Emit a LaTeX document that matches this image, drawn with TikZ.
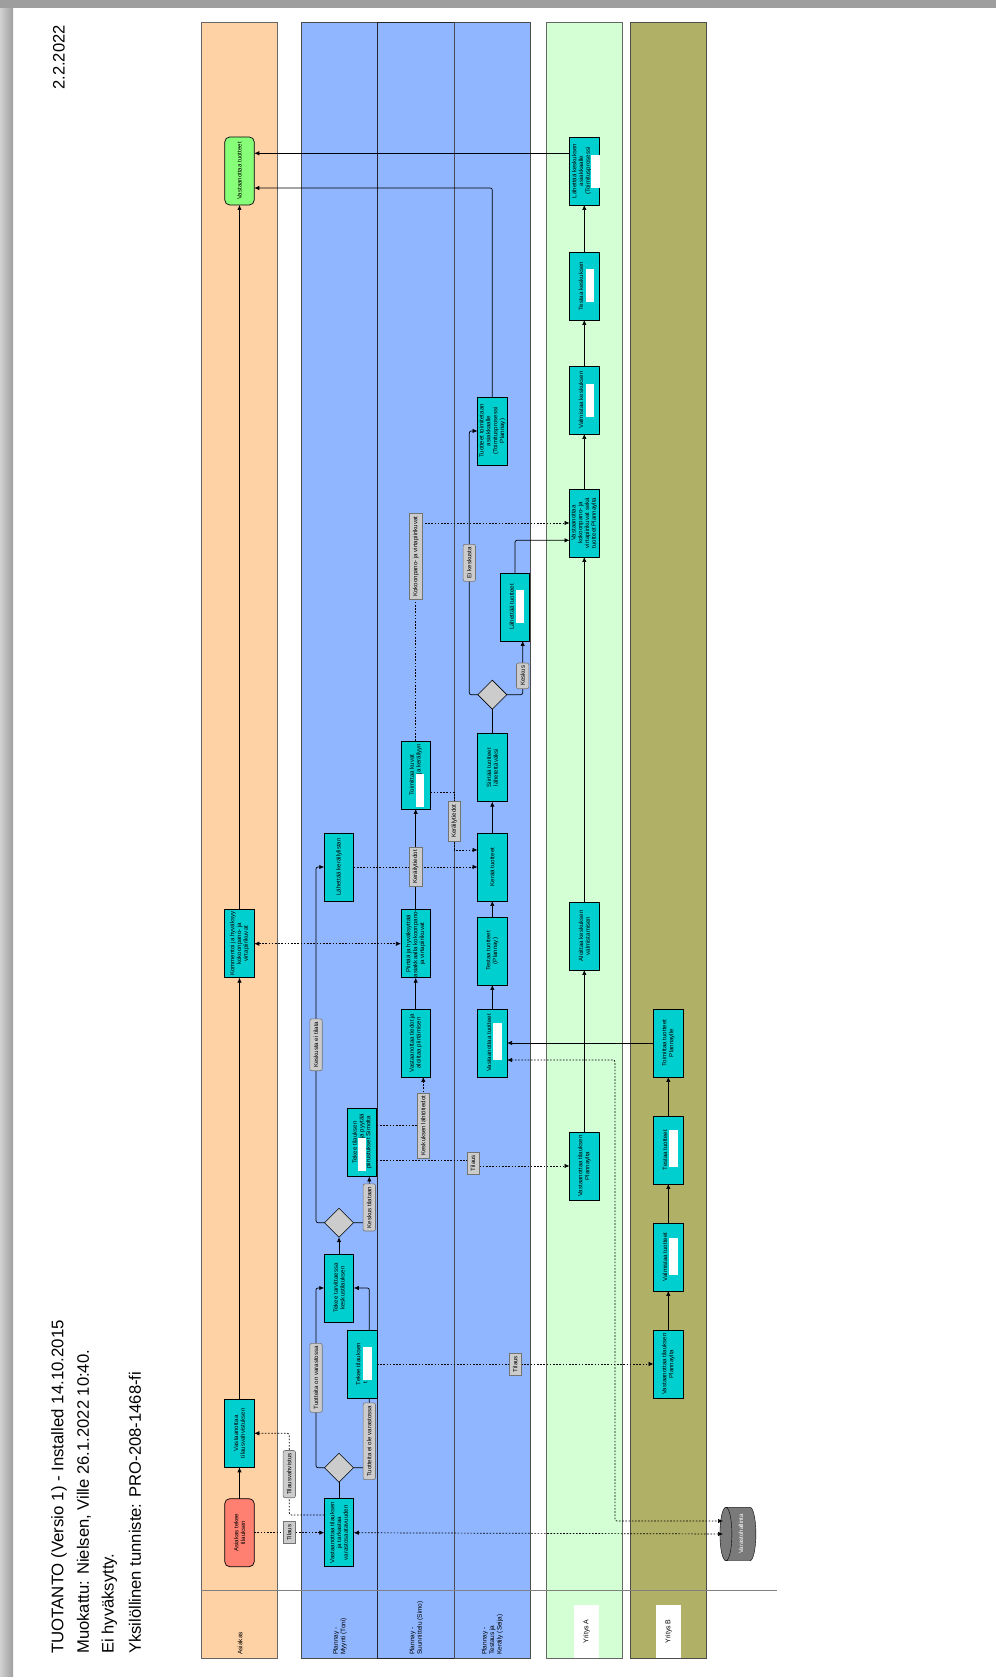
\documentclass[tikz,border=0pt]{standalone}
\usepackage{fontspec}
\setmainfont{Liberation Sans}
\usetikzlibrary{arrows.meta, positioning, shapes.geometric}
\definecolor{custfill}{RGB}{255,210,166}
\definecolor{planfill}{RGB}{143,182,255}
\definecolor{yafill}{RGB}{212,255,212}
\definecolor{ybfill}{RGB}{176,176,102}
\definecolor{taskfill}{RGB}{0,207,207}
\definecolor{startfill}{RGB}{255,128,112}
\definecolor{endfill}{RGB}{136,255,120}
\definecolor{tagfill}{RGB}{204,204,204}
\definecolor{framegray}{RGB}{158,158,158}
\tikzset{
  task/.style={rectangle, draw=black, fill=taskfill, line width=0.7pt, outer sep=0pt,
               minimum width=68pt, minimum height=29.5pt, inner sep=0pt,
               align=center, font=\fontsize{6.1}{6.8}\selectfont},
  startbox/.style={task, rounded corners=5pt, fill=startfill},
  endbox/.style={task, rounded corners=5pt, fill=endfill},
  gate/.style={diamond, draw=black, fill=tagfill, line width=0.6pt, outer sep=0pt,
               minimum width=29pt, minimum height=29pt, inner sep=0pt},
  tag/.style={rectangle, solid, draw=black!55, fill=tagfill, line width=0.6pt,
              minimum height=12.4pt, inner xsep=2.9pt, inner ysep=0pt,
              font=\fontsize{6.1}{6.8}\selectfont},
  lane/.style={rectangle, anchor=west, line width=0.6pt, outer sep=0pt,
               minimum width=1636pt, minimum height=76.4pt},
  lanetext/.style={anchor=west, align=left, inner sep=0pt,
                   font=\fontsize{6.5}{7.5}\selectfont},
  blank/.style={rectangle, fill=white, inner sep=0pt,
                minimum width=33pt, minimum height=8.4pt},
  firm/.style={rectangle, fill=white, minimum width=53pt, minimum height=25pt,
               inner sep=0pt, font=\fontsize{7}{8}\selectfont},
  headline/.style={anchor=west, inner sep=0pt, font=\fontsize{16.6}{18}\selectfont},
  arr/.style={-{Latex[length=5pt, width=4.4pt]}, line width=0.7pt, color=black},
  plainline/.style={line width=0.7pt, color=black},
  dots/.style={arr, dash pattern=on 1.6pt off 1.6pt},
  twoway/.style={dots, {Latex[length=5pt, width=4.4pt]}-{Latex[length=5pt, width=4.4pt]}},
  turn/.style={rounded corners=2pt},
}
\begin{document}
\begin{tikzpicture}[x=1pt, y=1pt]
  \useasboundingbox (0,0) rectangle (996,1677);
  \fill[left color=black!18, right color=framegray] (0,0) rectangle (13,1677);
  \fill[framegray] (0,1669) rectangle (996,1677);
  \begin{scope}[rotate=90, transform shape]
  \node[headline, font=\fontsize{16.8}{18}\selectfont] (ttl) at (23,-59) {TUOTANTO (Versio 1) - Installed 14.10.2015};
  \node[headline] (mod)  at (23,-84)    {Muokattu: Nielsen, Ville 26.1.2022 10:40.};
  \node[headline] (appr) at (23,-109.3) {Ei hyväksytty.};
  \node[headline] (code) at (23,-135)   {Yksilöllinen tunniste: PRO-208-1468-fi};
  \node[headline] (date) at (1587,-59)  {2.2.2022};

  \node[lane, fill=custfill, draw=black!60]  (lcust) at (19,-239.5) {};
  \node[lane, fill=planfill, draw=black!70]  (lsale) at (19,-339)   {};
  \node[lane, fill=planfill, draw=black!85]  (ldsgn) at (19,-415.7) {};
  \node[lane, fill=planfill, draw=black!70]  (ltest) at (19,-492.3) {};
  \node[lane, fill=yafill, draw=black!60]    (lya)   at (19,-584.5) {};
  \node[lane, fill=ybfill, draw=black!70]    (lyb)   at (19,-668.5) {};
  \coordinate (hdra) at (87,-201);
  \coordinate (hdrb) at (87,-777);
  \draw[black!50, line width=0.6pt] (hdra) -- (hdrb);

  \node[lanetext] (tcust) at (22,-240)   {Asiakas};
  \node[lanetext] (tsale) at (22,-340)   {Plannay -\\Myynti (Toni)};
  \node[lanetext] (tdsgn) at (22,-416.5) {Plannay -\\Suunnittelu (Simo)};
  \node[lanetext] (ttest) at (22,-492.5) {Plannay -\\Testaus ja\\Keräily (Seija)};
  \node[firm]     (tya)   at (45.6,-586.5) {Yritys A};
  \node[firm]     (tyb)   at (45.6,-668.5) {Yritys B};

  \node[startbox]                    (ord)   at (144.3,-239.5) {Asiakas tekee\\tilauksen};
  \node[task, right=31.4pt of ord]   (conf)  {Vastaanottaa\\tilausvahvistuksen};
  \node[task, right=421.6pt of conf] (cmt)   {Kommentoi ja hyväksyy\\kokoonpano- ja\\virtapiirikuvat};
  \node[endbox, right=704.7pt of cmt](recv)  {Vastaanottaa tuotteet};

  \node[task]                        (check) at (144.3,-339) {Vastaanottaa tilauksen\\ja tarkastaa\\varastosaatavuuden};
  \node[gate, right=16.5pt of check] (stock) {};
  \node[task, right=131.2pt of stock](hub)   {Tekee tarvittaessa\\keskustilauksen};
  \node[gate, right=16.8pt of hub]   (hubq)  {};
  \node[task, right=307.2pt of hubq] (plist) {Lähettää keräilylistan};
  \node[task]                        (po1)   at (313,-362.3)   {Tekee tilauksen\\t\phantom{oimittajalle xx}};
  \node[task]                        (po2)   at (534.5,-362)   {Tekee tilauksen\\\phantom{xxxxxxxxxx} ja pyytää\\piirustukset Simolta};

  \node[task]                        (info)  at (634,-415.7)   {Vastaanottaa tiedot ja\\aloittaa piirtämisen};
  \node[task, right=31.3pt of info]  (apprv) {Piirtää ja hyväksyttää\\asiakkaalla kokoonpano-\\ja virtapiirikuvat};
  \node[task, right=100.7pt of apprv](imgs)  {Toimittaa kuvat\\\phantom{xxxxxxxxxx} ja keräilyyn};

  \node[task]                        (goods) at (634,-492.3)   {Vastaanottaa tuotteet\\\phantom{x}};
  \node[task, right=24pt of goods]   (test)  {Testaa tuotteet\\(Plannay)};
  \node[task, right=16pt of test]    (pick)  {Kerää tuotteet};
  \node[task, right=31.3pt of pick]  (move)  {Siirtää tuotteet\\lähetettäväksi};
  \node[gate, right=24.5pt of move]  (route) {};
  \node[task, right=215.2pt of route](ship)  {Tuotteet toimitetaan\\asiakkaalle\\(Toimitusprosessi\\Plannay)};
  \node[task]                        (send)  at (1070,-515)    {Lähettää tuotteet\\\phantom{x}};

  \node[task]                        (aorder) at (511,-584.3)  {Vastaanottaa tilauksen\\Plannaylta};
  \node[task, right=162pt of aorder] (astart) {Aloittaa keskuksen\\valmistamisen};
  \node[task, right=345pt of astart] (akit)   {Vastaanottaa\\kokoonpano- ja\\virtapiirikuvat sekä\\tuotteet Plannaylta};
  \node[task, right=55pt of akit]    (amake)  {Valmistaa keskuksen\\\phantom{x}};
  \node[task, right=46pt of amake]   (atest)  {Testaa keskuksen\\\phantom{x}};
  \node[task, right=47pt of atest]   (asend)  {Lähettää keskuksen\\asiakkaalle\\(Toimitusprosessi\\\phantom{x}};

  \node[task]                        (border) at (313,-668.3)  {Vastaanottaa tilauksen\\Plannaylta};
  \node[task, right=39pt of border]  (bmake)  {Valmistaa tuotteet\\\phantom{x}};
  \node[task, right=39pt of bmake]   (btest)  {Testaa tuotteet\\\phantom{x}};
  \node[task, right=39pt of btest]   (bsend)  {Toimittaa tuotteet\\Plannaylle};

  \node[cylinder, shape border rotate=90, aspect=0.3, draw=black, fill=black!52,
        text=white, minimum height=36pt, minimum width=53.5pt, inner sep=0pt,
        font=\fontsize{6.1}{6.8}\selectfont] (store) at (143,-741) {Varastohallinta};

  \node[blank] (wpo1)  at (313.4,-367.3) {};
  \node[blank, minimum width=36.7pt] (wgoods) at (635.3,-497.5) {};
  \node[blank] (wpo2)  at (522.1,-362)   {};
  \node[blank] (wimgs) at (886.5,-420.2) {};
  \node[blank] (wsend) at (1070,-520)    {};
  \node[blank] (wamake) at (1276.7,-590) {};
  \node[blank] (watest) at (1391.2,-590) {};
  \node[blank] (wasend) at (1505,-595.3) {};
  \node[blank, minimum width=37pt] (wbmake) at (420.5,-673.3) {};
  \node[blank, minimum width=37pt] (wbtest) at (528,-673.3)   {};

  \coordinate (storea) at (143,-723);
  \coordinate (storeb) at (156,-723);
  \coordinate (tv)   at (243.7,-289.3);
  \coordinate (hs)   at (389,-316);
  \coordinate (hp)   at (810,-316);
  \coordinate (tk)   at (511,-473);
  \coordinate (kp)   at (827,-454.3);
  \coordinate (rs)   at (1246,-469.3);
  \coordinate (tr)   at (156,-615);

  \draw[arr]  (ord)    -- (conf);
  \draw[arr]  (conf)   -- (cmt);
  \draw[arr]  (cmt)    -- (recv);
  \draw[plainline] (check)  -- (stock);
  \draw[arr]  (hub)    -- (hubq);
  \draw[arr]  (info)   -- (apprv);
  \draw[arr]  (apprv)  -- (imgs);
  \draw[arr]  (goods)  -- (test);
  \draw[arr]  (test)   -- (pick);
  \draw[arr]  (pick)   -- (move);
  \draw[plainline] (move)   -- (route);
  \draw[arr]  (aorder) -- (astart);
  \draw[arr]  (astart) -- (akit);
  \draw[arr]  (akit)   -- (amake);
  \draw[arr]  (amake)  -- (atest);
  \draw[arr]  (atest)  -- (asend);
  \draw[arr]  (border) -- (bmake);
  \draw[arr]  (bmake)  -- (btest);
  \draw[arr]  (btest)  -- (bsend);
  \draw[arr]  (bsend)  -- (goods);
  \draw[arr]  ([xshift=17.7pt]asend.north) -- ([xshift=17.7pt]recv.south);
  \draw[arr, turn]  (ship.east) -| ([xshift=-17pt]recv.south);
  \draw[arr, turn]  (send.east) -| ([xshift=-17.3pt]akit.north);
  \draw[arr, turn]  ([yshift=-7pt]po1.east) -| (hub.south);

  \draw[dots] (ord) -- node[tag] (ttil) {Tilaus} (check);
  \draw[dots, turn] ([xshift=17.7pt]check.north) |- node[tag, pos=0.75] (tvah) {Tilausvahvistus} (tv) -- (conf.south);
  \draw[twoway] (check) -- (storea);
  \draw[twoway, turn] ([xshift=-17pt]goods.south) |- (tr) -- (storeb);
  \draw[twoway] (cmt) -- (apprv);
  \draw[arr, turn]  (stock.north) |- node[tag, pos=0.75] (tyes) {Tuotteita on varastossa} (hs) -- (hub.north);
  \draw[plainline, turn] (stock.south) |- node[tag, pos=0.69] (tno) {Tuotteita ei ole varastossa} ([yshift=-7pt]po1.west);
  \draw[arr, turn]  (hubq.north) |- node[tag, pos=0.75] (tnk) {Keskusta ei tilata} (hp) -- (plist.north);
  \draw[arr, turn]  (hubq.south) |- node[tag, pos=0.665] (tkt) {Keskus tilataan} ([yshift=-7.3pt]po2.west);
  \draw[dots] (po1) -- node[tag] (ttb) {Tilaus} (border);
  \draw[dots] ([xshift=-17.5pt]po2.south) |- node[tag, pos=0.75] (tta) {Tilaus} (tk) -- (aorder.north);
  \draw[dots] ([xshift=16.8pt]po2.south) |- node[tag] (tlt) {Keskuksen lähtötiedot} ([yshift=-7.6pt]info.west);
  \draw[dots] (plist) -- node[tag] (tk1) {Keräilytiedot} (pick);
  \draw[dots] ([xshift=-17.3pt]imgs.south) |- node[tag, pos=0.75] (tk2) {Keräilytiedot} (kp) -- ([xshift=17pt]pick.north);
  \draw[dots] (imgs.east) -| node[tag, pos=0.423] (tki) {Kokoonpano- ja virtapiirikuvat} (akit.north);
  \draw[arr, turn]  (route.south) |- node[tag, pos=0.675] (tkk) {Keskus} ([yshift=-7.7pt]send.west);
  \draw[arr, turn]  (route.north) |- node[tag, pos=0.75] (tek) {Ei keskusta} (rs) -- (ship.north);
  \end{scope}
\end{tikzpicture}
\end{document}
